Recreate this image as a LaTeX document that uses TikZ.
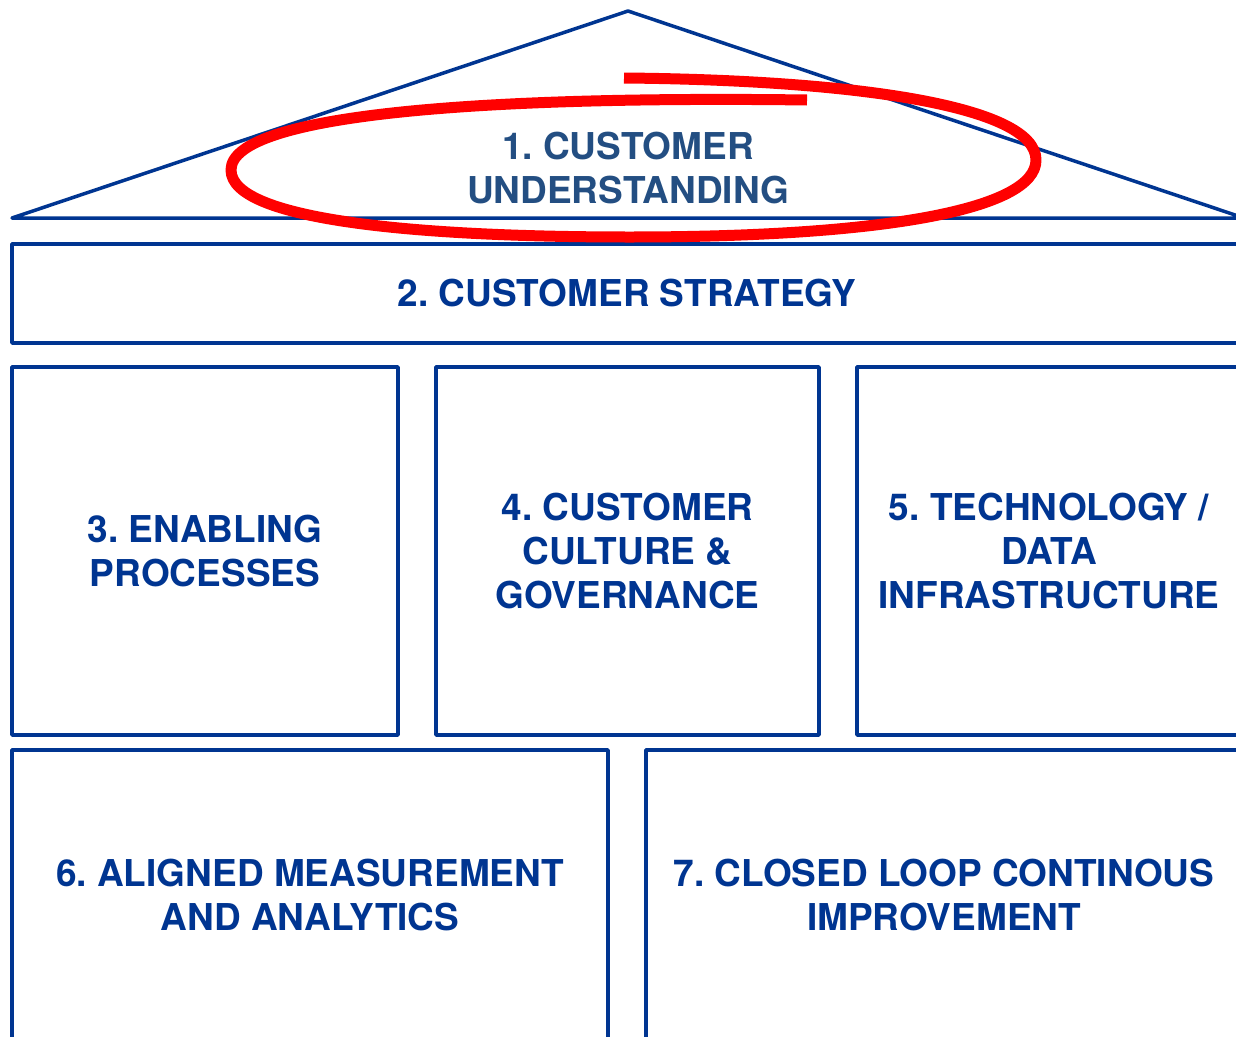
\documentclass[tikz,border=0pt]{standalone}
\usepackage{fontspec}
\setmainfont{TeX Gyre Heros}
\frenchspacing
\definecolor{houseblue}{RGB}{0,53,145}
\definecolor{roofblue}{RGB}{35,78,130}
\definecolor{loopred}{RGB}{255,0,0}

\begin{document}
\begin{tikzpicture}[x=1pt, y=-1pt, line join=round,
    pillar/.style={draw=houseblue, line width=3.5pt, text=houseblue, align=center, inner sep=2pt,
      font=\fontsize{37}{44}\selectfont\bfseries},
    roof/.style={draw=houseblue, line width=3.5pt},
    ring/.style={draw=loopred, line width=11pt, line cap=butt}]
	\useasboundingbox (0,0) rectangle (1236,1036);
	\clip (0,0) rectangle (1236,1036);
	
	% roof with the first element
	\draw[roof] (12,218) -- (628,11) -- (1244,218) -- cycle;
	\node[pillar, draw=none, text=roofblue] (underst) at (628,168) {1. CUSTOMER\\UNDERSTANDING};
	
	% beam and pillars
	\node[pillar, minimum width=1230pt, minimum height=99pt] (strat) at (627,293.5) {2. CUSTOMER STRATEGY};
	\node[pillar, minimum width=386pt, minimum height=368pt] (enab) at (205,551) {3. ENABLING\\PROCESSES};
	\node[pillar, minimum width=383pt, minimum height=368pt] (cult) at (627.5,551) {4. CUSTOMER\\CULTURE \&\\GOVERNANCE};
	\node[pillar, minimum width=384pt, minimum height=368pt] (tech) at (1049,551) {5. TECHNOLOGY /\\DATA\\INFRASTRUCTURE};
	\node[pillar, minimum width=596pt, minimum height=290pt] (meas) at (310,895) {6. ALIGNED MEASUREMENT\\AND ANALYTICS};
	\node[pillar, minimum width=596pt, minimum height=290pt] (loop) at (944,895) {7. CLOSED LOOP CONTINOUS\\IMPROVEMENT};
	
	% hand drawn ring round element 1
	\draw[ring] (807,100) .. controls (500,96) and (231,112) .. (231,170)
	  .. controls (231,222) and (430,237) .. (630,237)
	  .. controls (880,237) and (1036,210) .. (1036,160)
	  .. controls (1036,105) and (850,80) .. (624,78);
\end{tikzpicture}
\end{document}
